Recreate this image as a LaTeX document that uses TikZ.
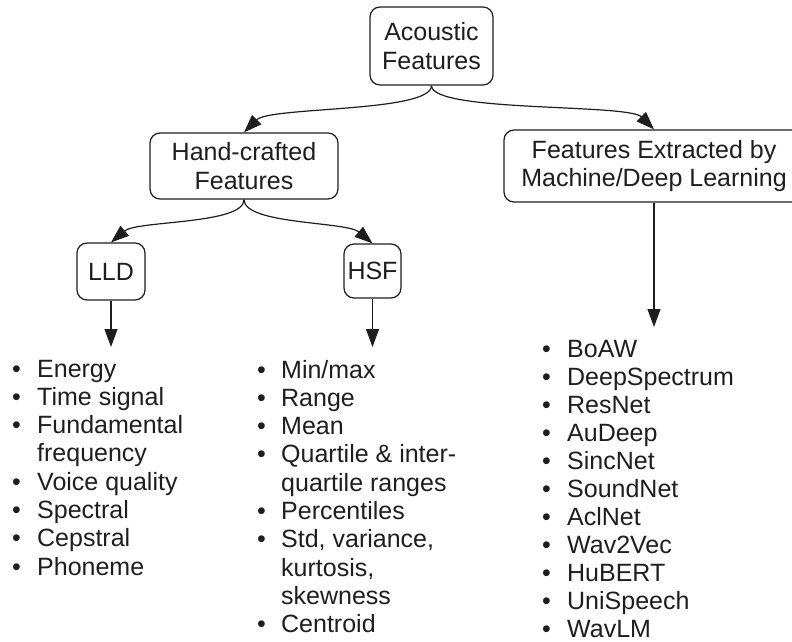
\documentclass[tikz,border=0pt]{standalone}
\usepackage{fontspec}
\setmainfont{Liberation Sans}
\usetikzlibrary{arrows.meta}
\definecolor{ink}{HTML}{1E1E1E}
\tikzset{
  box/.style={draw=ink, line width=1.2pt, rounded corners=10pt, inner sep=0pt,
    align=center, text=ink, font=\fontsize{25}{28.3}\selectfont},
  arr/.style={draw=ink, line width=1.2pt, -{Triangle[length=18pt,width=13pt]}},
  lst/.style={inner sep=0pt, text=ink, font=\fontsize{25}{28.3}\selectfont},
  lsttight/.style={inner sep=0pt, text=ink, font=\fontsize{25}{28.0}\selectfont}
}
\newcommand{\bl}{\textbullet}
\begin{document}
\begin{tikzpicture}[x=1pt,y=-1pt]
\useasboundingbox (0,0) rectangle (792,642);
\node[box, minimum width=123pt, minimum height=78pt] (ac) at (431.5,46) {Acoustic\\Features};
\node[box, minimum width=188pt, minimum height=66pt] (hc) at (244,166) {Hand-crafted\\Features};
\node[box, minimum width=300pt, minimum height=72pt] (ml) at (654,166) {Features Extracted by\\Machine/Deep Learning};
\node[box, minimum width=68pt, minimum height=57pt] (lld) at (111,271.5) {LLD};
\node[box, minimum width=57pt, minimum height=54pt] (hsf) at (372.5,271) {HSF};

\coordinate (lldtip) at (111,347);
\coordinate (hsftip) at (372.5,347);
\coordinate (mltip) at (654,327);

\draw[arr] (ac.south) .. controls +(0,27) and +(26,-26) .. (hc.north);
\draw[arr] (ac.south) .. controls +(0,27) and +(-26,-26) .. (ml.north);
\draw[arr] (hc.south) .. controls +(0,25) and +(26,-22) .. (lld.north);
\draw[arr] (hc.south) .. controls +(0,25) and +(-26,-22) .. (hsf.north);
\draw[arr] (lld.south) -- (lldtip);
\draw[arr] (hsf.south) -- (hsftip);
\draw[arr] (ml.south) -- (mltip);

\node[lst, anchor=base west] (l1) at (12,377) {\begin{tabular}[t]{@{}p{25pt}@{}l@{}}
\bl & Energy\\
\bl & Time signal\\
\bl & Fundamental\\
    & frequency\\
\bl & Voice quality\\
\bl & Spectral\\
\bl & Cepstral\\
\bl & Phoneme
\end{tabular}};
\node[lst, anchor=base west] (l2) at (257,378) {\begin{tabular}[t]{@{}p{24pt}@{}l@{}}
\bl & Min/max\\
\bl & Range\\
\bl & Mean\\
\bl & Quartile \& inter-\\
    & quartile ranges\\
\bl & Percentiles\\
\bl & Std, variance,\\
    & kurtosis,\\
    & skewness\\
\bl & Centroid
\end{tabular}};
\node[lsttight, anchor=base west] (l3) at (542,357) {\begin{tabular}[t]{@{}p{25pt}@{}l@{}}
\bl & BoAW\\
\bl & DeepSpectrum\\
\bl & ResNet\\
\bl & AuDeep\\
\bl & SincNet\\
\bl & SoundNet\\
\bl & AclNet\\
\bl & Wav2Vec\\
\bl & HuBERT\\
\bl & UniSpeech\\
\bl & WavLM
\end{tabular}};
\end{tikzpicture}
\end{document}
